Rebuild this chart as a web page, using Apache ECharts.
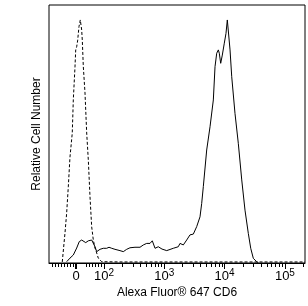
<!DOCTYPE html>
<html><head><meta charset="utf-8">
<script src="https://cdn.jsdelivr.net/npm/echarts@6/dist/echarts.min.js"></script>
<style>html,body{margin:0;padding:0;background:#fff}#c{width:308px;height:306px}</style>
</head><body><div id="c"></div>
<script>
// x values are display positions on the logicle-style axis (decade units: 2 = 10^2, 3 = 10^3 ...)
const solidX = [1.381,1.436,1.491,1.547,1.590,1.630,1.657,1.697,1.740,1.796,1.823,1.851,1.879,1.905,1.934,1.988,2.045,2.083,2.128,2.182,2.265,2.320,2.376,2.431,2.514,2.597,2.652,2.708,2.763,2.801,2.846,2.900,2.962,3.040,3.149,3.232,3.260,3.315,3.371,3.426,3.481,3.537,3.592,3.620,3.647,3.703,3.758,3.813,3.841,3.869,3.896,3.912,3.935,3.962,3.995,4.023,4.045,4.061,4.090,4.118,4.172,4.227,4.284,4.338,4.393,4.433,4.476,4.532,4.559];
const solidY = [0.5,1.9,3.1,5.8,8.3,8.9,9.3,7.9,8.6,8.9,8.3,6.3,4.4,5.0,5.3,5.7,5.7,6.1,5.7,5.3,4.8,4.4,5.3,5.9,6.1,6.1,7.0,7.6,7.6,8.6,5.7,6.3,5.4,4.8,5.7,6.3,7.6,7.0,8.9,10.9,11.2,14.1,17.9,23.1,29.6,43.8,52.8,63.2,76.1,81.3,82.6,81.3,77.4,80.6,85.2,89.0,94.2,93.5,82.6,72.2,58.0,46.4,32.2,20.5,11.5,5.7,1.8,0.5,0.1];
const isoX = [1.308,1.353,1.381,1.408,1.436,1.474,1.491,1.519,1.531,1.547,1.564,1.585,1.607,1.630,1.640,1.657,1.685,1.713,1.740,1.768,1.796,1.823,1.851,1.879,1.905,1.962,2.3,3.0,4.0,5.0,5.333];
const isoY = [0.4,11.6,19.4,29.5,41.1,50.4,63.2,76.0,82.6,83.8,86.4,91.6,94.2,90.3,86.4,76.1,65.9,50.4,39.9,25.6,14.0,8.9,5.8,3.9,1.9,0.5,0.4,0.4,0.4,0.4,0.4];

const majorTicks = [1.536, 2, 3, 4, 5];
const tickBase = ['0', '10', '10', '10', '10'];
const tickExp = ['', '2', '3', '4', '5'];
const lowMinorTicks = [1.138,1.187,1.237,1.287,1.337,1.386,1.436,1.486,1.701,1.760,1.809,1.859,1.909,1.950];
const xMin = 1.088, xMax = 5.333;

const minorTicks = lowMinorTicks.slice();
for (let n = 2; n <= 5; n++) for (let k = 2; k <= 9; k++) {
  const v = n + Math.log10(k);
  if (v <= xMax) minorTicks.push(v);
}

const FONT = '"Liberation Sans", Arial, sans-serif';
const chart = echarts.init(document.getElementById('c'), null, {renderer: 'canvas'});
const baseAxis = {type: 'value', min: xMin, max: xMax, gridIndex: 0, position: 'bottom',
  splitLine: {show: false}};
chart.setOption({
  animation: false,
  backgroundColor: '#fff',
  grid: {left: 49, top: 5, width: 256, height: 258, show: true, borderColor: '#000', borderWidth: 1, containLabel: false},
  xAxis: [
    Object.assign({}, baseAxis, {
      axisLine: {show: true, lineStyle: {color: '#000', width: 1}},
      axisTick: {show: true, customValues: minorTicks, length: 4, lineStyle: {color: '#000', width: 1}},
      axisLabel: {show: false},
      name: 'Alexa Fluor® 647 CD6', nameLocation: 'middle', nameGap: 24,
      nameTextStyle: {fontFamily: FONT, fontSize: 12, color: '#000'}
    }),
    Object.assign({}, baseAxis, {
      axisLine: {show: false},
      axisTick: {show: true, customValues: majorTicks.slice(1), length: 6, lineStyle: {color: '#000', width: 1}},
      axisLabel: {show: true, customValues: majorTicks, margin: 6,
        formatter: function (v) {
          let i = 0, best = 1e9;
          majorTicks.forEach((t, j) => { if (Math.abs(t - v) < best) { best = Math.abs(t - v); i = j; } });
          return tickExp[i] ? '{b|' + tickBase[i] + '}{s|' + tickExp[i] + '}' : '{b|' + tickBase[i] + '}';
        },
        rich: {
          b: {fontFamily: FONT, fontSize: 13, color: '#000', lineHeight: 15},
          s: {fontFamily: FONT, fontSize: 10, color: '#000', lineHeight: 15, padding: [0, 0, 7, 0]}
        }
      }
    }),
    Object.assign({}, baseAxis, {
      axisLine: {show: false},
      axisTick: {show: true, customValues: [majorTicks[0]], length: 6, lineStyle: {color: '#000', width: 2}},
      axisLabel: {show: false}
    })
  ],
  yAxis: {type: 'value', min: 0, max: 100, axisLine: {show: false}, axisTick: {show: false},
    axisLabel: {show: false}, splitLine: {show: false},
    name: 'Relative Cell Number', nameLocation: 'middle', nameGap: 6,
    nameTextStyle: {fontFamily: FONT, fontSize: 12, color: '#000'}},
  series: [
    {type: 'line', xAxisIndex: 0, data: isoX.map((x, i) => [x, isoY[i]]), symbol: 'none', smooth: false,
      lineStyle: {color: '#000', width: 1, type: [3, 2]}},
    {type: 'line', xAxisIndex: 0, data: solidX.map((x, i) => [x, solidY[i]]), symbol: 'none', smooth: false,
      lineStyle: {color: '#000', width: 1}}
  ]
});
</script></body></html>
